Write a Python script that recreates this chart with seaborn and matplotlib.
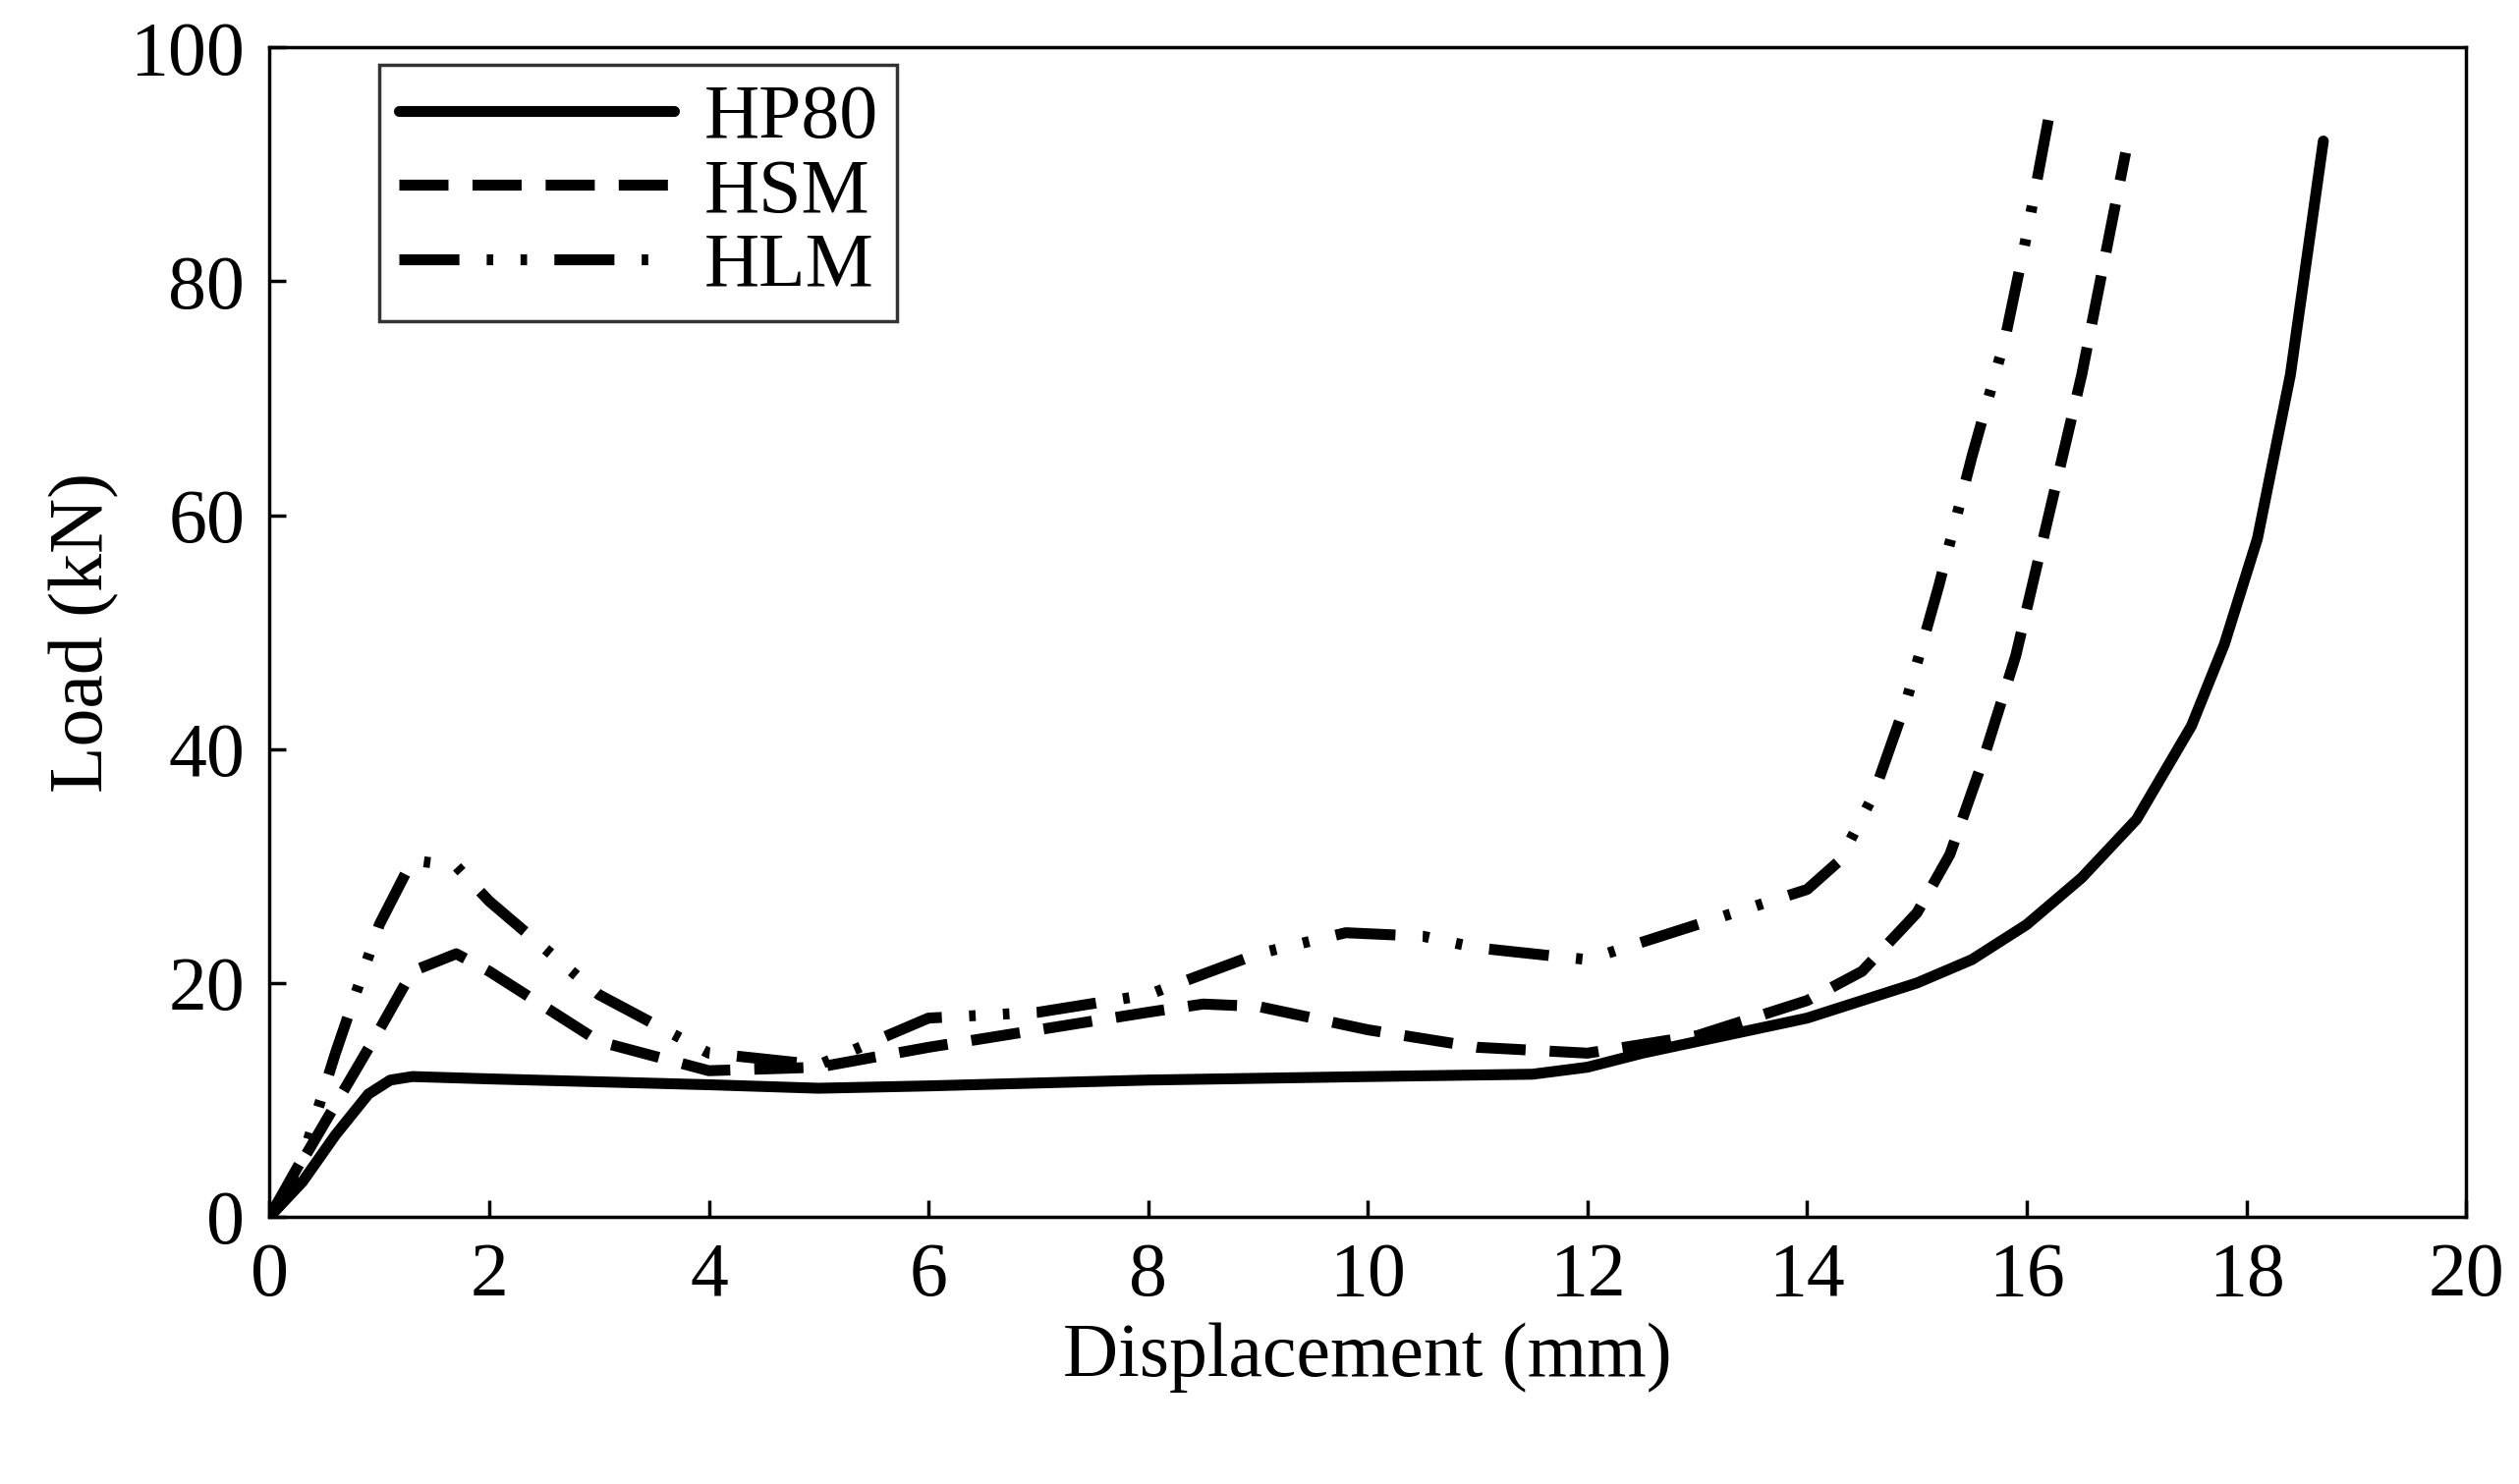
import matplotlib
matplotlib.use("Agg")
import matplotlib.pyplot as plt
import seaborn as sns
import pandas as pd

hp80_x = [0,0.3,0.6,0.9,1.1,1.3,2,4,5,6,8,10,11.5,12,12.5,13,14,15,15.5,16,16.5,17,17.5,17.8,18.1,18.4,18.7]
hp80_y = [0,3,7,10.5,11.7,12,11.8,11.3,11,11.2,11.7,12,12.2,12.8,14,15,17,20,22,25,29,34,42,49,58,72,92]
hsm_x = [0,0.5,1,1.3,1.7,2,3,4,5,6,7,8,8.5,9,10,11,12,13,14,14.5,15,15.3,15.6,15.9,16.2,16.5,16.9]
hsm_y = [0,8,16,21,22.5,21,15,12.5,12.8,14.5,16,17.5,18.2,18,16,14.5,14,15.5,18.5,21,26,31,39,48,60,72,91]
hlm_x = [0,0.3,0.6,1,1.3,1.7,2,3,4,5,6,7,8,9,9.8,10.5,11,12,13,14,14.3,14.6,14.9,15.2,15.5,15.8,16,16.2]
hlm_y = [0,5,14,25,30.5,30,27,19,14,13,17,17.5,19,22.5,24.3,24,23,22,25,28,30.5,36,44,54,65,75,84,94]

sns.set_style("ticks")
plt.rcParams['font.family'] = ['Liberation Serif', 'DejaVu Serif']
plt.rcParams['text.color'] = 'black'
plt.rcParams['axes.labelcolor'] = 'black'
plt.rcParams['xtick.color'] = 'black'
plt.rcParams['ytick.color'] = 'black'
fig = plt.figure(figsize=(25.64, 15.11), dpi=100)
ax = fig.add_axes([0.107, 0.180, 0.872, 0.788])

lw = 8
series = [("HP80", hp80_x, hp80_y, None),
          ("HSM", hsm_x, hsm_y, (4.5, 2.2)),
          ("HLM", hlm_x, hlm_y, (5.5, 2.5, 0.6, 2.5, 0.6, 2.5))]
for name, x, y, dash in series:
    df = pd.DataFrame({"x": x, "y": y})
    sns.lineplot(data=df, x="x", y="y", ax=ax, color="black", lw=lw, sort=False, label=name)
    line = ax.lines[-1]
    line.set_solid_joinstyle("round")
    if dash is not None:
        line.set_dashes(dash)

ax.set_xlim(0, 20)
ax.set_ylim(0, 100)
ax.set_xticks(range(0, 21, 2))
ax.set_yticks(range(0, 101, 20))
fs = 56
ax.tick_params(labelsize=fs, direction="in", length=12, width=2.5, pad=18)
ax.set_xlabel("Displacement (mm)", fontsize=fs, labelpad=8)
ax.set_ylabel("Load (kN)", fontsize=fs, labelpad=8)
for s in ax.spines.values():
    s.set_linewidth(2.5)
    s.set_color("black")
leg = ax.legend(loc="upper left", bbox_to_anchor=(0.05, 0.985), fontsize=fs, frameon=True,
                fancybox=False, edgecolor="black", handlelength=3.6, labelspacing=0.05,
                borderpad=0.25, handletextpad=0.4, borderaxespad=0)
leg.get_frame().set_linewidth(2.5)
fig.savefig("out.png", dpi=100)
